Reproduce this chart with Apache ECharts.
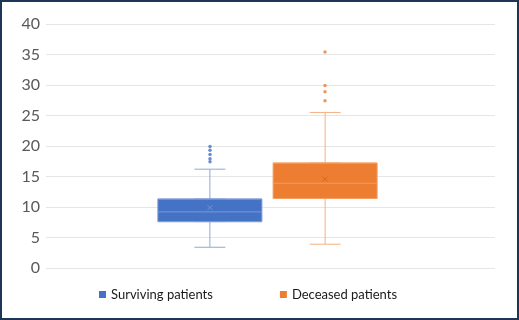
<!DOCTYPE html>
<html>
<head>
<meta charset="utf-8">
<script src="https://cdn.jsdelivr.net/npm/echarts@6/dist/echarts.min.js"></script>
<style>
  html, body { margin: 0; padding: 0; background: #fff; }
  #main {
    width: 519px; height: 320px;
    box-sizing: border-box;
    border: 2px solid #1d3557;
  }
</style>
</head>
<body>
<div id="main"></div>
<script>
// series names
var seriesNames = ['Surviving patients', 'Deceased patients'];
// box stats: [min, Q1, median, Q3, max]
var survivingBox = [3.4, 7.6, 9.2, 11.3, 16.2];
var deceasedBox = [3.9, 11.4, 13.9, 17.2, 25.5];
// means
var survivingMean = 9.9;
var deceasedMean = 14.6;
// outliers
var survivingOutliers = [19.9, 19.3, 18.6, 17.9, 17.4];
var deceasedOutliers = [35.4, 29.9, 28.9, 27.4];
// y ticks
var yMin = 0, yMax = 40, yStep = 5;

var blue = '#4472c4', orange = '#ed7d31';
var xMark = 'path://M0,0L10,10M10,0L0,10';

// box only (whiskers collapsed onto the box edges)
function boxOnly(b) { return [b[1], b[1], b[2], b[3], b[3]]; }

var chart = echarts.init(document.getElementById('main'));

var plotGrid = { top: 22, bottom: 50 };
var option = {
  animation: false,
  textStyle: { fontFamily: 'Lato, "Open Sans", sans-serif' },
  grid: [
    // background grid with y labels
    { left: 44, right: 22, top: plotGrid.top, bottom: plotGrid.bottom },
    // wide boxes
    { left: 139, right: 123, top: plotGrid.top, bottom: plotGrid.bottom },
    // outliers / means, one category per box
    { left: 150.5, right: 134.5, top: plotGrid.top, bottom: plotGrid.bottom },
    // narrow whiskers
    { left: 139, right: 123, top: plotGrid.top, bottom: plotGrid.bottom }
  ],
  xAxis: [
    { gridIndex: 0, type: 'category', data: [''], show: false },
    { gridIndex: 1, type: 'category', data: [''], show: false },
    { gridIndex: 2, type: 'category', data: seriesNames, show: false },
    { gridIndex: 3, type: 'category', data: [''], show: false }
  ],
  yAxis: [
    {
      gridIndex: 0, type: 'value', min: yMin, max: yMax, interval: yStep,
      axisLine: { show: false }, axisTick: { show: false },
      axisLabel: { color: '#595959', fontSize: 16, margin: 6 },
      splitLine: { lineStyle: { color: '#e6e6e6', width: 1 } }
    },
    { gridIndex: 1, type: 'value', min: yMin, max: yMax, interval: yStep, show: false },
    { gridIndex: 2, type: 'value', min: yMin, max: yMax, interval: yStep, show: false },
    { gridIndex: 3, type: 'value', min: yMin, max: yMax, interval: yStep, show: false }
  ],
  legend: {
    left: 92, bottom: 12,
    itemWidth: 7, itemHeight: 7, itemGap: 67,
    icon: 'rect',
    textStyle: { color: '#1a1a1a', fontSize: 13 },
    data: [
      { name: seriesNames[0], itemStyle: { color: blue, borderWidth: 0 } },
      { name: seriesNames[1], itemStyle: { color: orange, borderWidth: 0 } }
    ]
  },
  series: [
    {
      name: seriesNames[0], type: 'boxplot',
      xAxisIndex: 3, yAxisIndex: 3, z: 1,
      boxWidth: [31, 31],
      itemStyle: { color: blue, borderColor: '#8ea9db', borderWidth: 1 },
      data: [survivingBox]
    },
    {
      name: seriesNames[1], type: 'boxplot',
      xAxisIndex: 3, yAxisIndex: 3, z: 1,
      boxWidth: [31, 31],
      itemStyle: { color: orange, borderColor: '#f4b183', borderWidth: 1 },
      data: [deceasedBox]
    },
    {
      name: seriesNames[0], type: 'boxplot',
      xAxisIndex: 1, yAxisIndex: 1, z: 2,
      boxWidth: [104, 104],
      itemStyle: { color: blue, borderColor: '#7d99d6', borderWidth: 1 },
      data: [boxOnly(survivingBox)]
    },
    {
      name: seriesNames[1], type: 'boxplot',
      xAxisIndex: 1, yAxisIndex: 1, z: 2,
      boxWidth: [104, 104],
      itemStyle: { color: orange, borderColor: '#f29d62', borderWidth: 1 },
      data: [boxOnly(deceasedBox)]
    },
    {
      name: seriesNames[0], type: 'scatter',
      xAxisIndex: 2, yAxisIndex: 2, z: 3,
      symbol: 'circle', symbolSize: 3.5,
      itemStyle: { color: blue },
      data: survivingOutliers.map(function (v) { return [seriesNames[0], v]; })
    },
    {
      name: seriesNames[1], type: 'scatter',
      xAxisIndex: 2, yAxisIndex: 2, z: 3,
      symbol: 'circle', symbolSize: 3.5,
      itemStyle: { color: orange },
      data: deceasedOutliers.map(function (v) { return [seriesNames[1], v]; })
    },
    {
      name: 'mean', type: 'scatter',
      xAxisIndex: 2, yAxisIndex: 2, z: 3,
      symbol: xMark, symbolSize: 5,
      itemStyle: { color: 'none', borderColor: '#7f9ad0', borderWidth: 1 },
      data: [[seriesNames[0], survivingMean]]
    },
    {
      name: 'mean2', type: 'scatter',
      xAxisIndex: 2, yAxisIndex: 2, z: 3,
      symbol: xMark, symbolSize: 5,
      itemStyle: { color: 'none', borderColor: '#c9651f', borderWidth: 1 },
      data: [[seriesNames[1], deceasedMean]]
    }
  ]
};

chart.setOption(option);
</script>
</body>
</html>
